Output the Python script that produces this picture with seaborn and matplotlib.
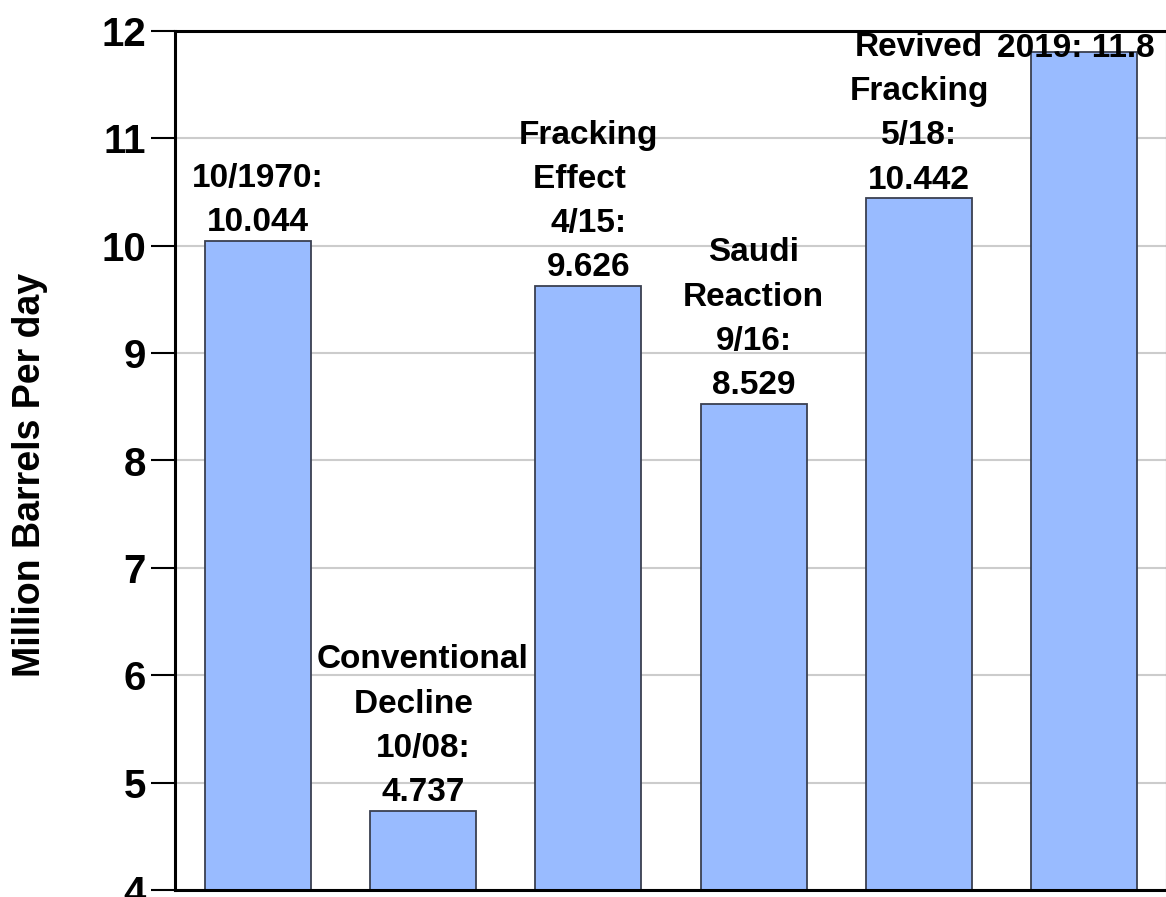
import seaborn as sns
import matplotlib.pyplot as plt

# data
periods = ['10/1970', '10/08', '4/15', '9/16', '5/18', '2019']
production = [10.044, 4.737, 9.626, 8.529, 10.442, 11.8]
bar_labels = ['10/1970:\n10.044',
              'Conventional\nDecline  \n10/08:\n4.737',
              'Fracking\nEffect  \n4/15:\n9.626',
              'Saudi\nReaction\n9/16:\n8.529',
              'Revived\nFracking\n5/18:\n10.442',
              '2019: 11.8']
y_ticks = [4, 5, 6, 7, 8, 9, 10, 11, 12]

sns.set_style('white')
plt.rcParams['font.family'] = ['Liberation Sans', 'DejaVu Sans']
plt.rcParams['font.weight'] = 'bold'
plt.rcParams['text.color'] = 'black'
plt.rcParams['axes.labelcolor'] = 'black'
plt.rcParams['ytick.color'] = 'black'

fig = plt.figure(figsize=(11.66, 8.97), dpi=100)
ax = fig.add_axes([175/1166, 7/897, 992/1166, 859/897])

sns.barplot(x=periods, y=production, color='#99BBFF', saturation=1,
            edgecolor='#3a4050', linewidth=1.3, width=0.64, ax=ax, zorder=2)

ax.set_ylim(4, 12)
ax.set_xlim(-0.5, 5.5)
ax.set_yticks(y_ticks)
ax.set_yticklabels([str(t) for t in y_ticks], fontsize=29, fontweight='bold')
ax.set_xticks([])
ax.set_xlabel('')
ax.set_ylabel('Million Barrels Per day', fontsize=27, fontweight='bold')
ax.yaxis.set_label_coords(-0.128, 0.483)
ax.yaxis.grid(True, color='#cccccc', linewidth=1.5, zorder=0)
ax.set_axisbelow(True)
ax.tick_params(axis='y', direction='out', length=17, width=1.5, color='black',
               pad=4, left=True)

for side in ['left', 'top', 'bottom', 'right']:
    ax.spines[side].set_visible(True)
    ax.spines[side].set_color('black')
    ax.spines[side].set_linewidth(2.2)

for i, (val, lab) in enumerate(zip(production, bar_labels)):
    if i == len(production) - 1:
        # no room above the last bar, the label sits over its top edge
        ax.annotate(lab, (i, val), xytext=(-6, -3), textcoords='offset points',
                    ha='center', va='baseline', fontsize=24, fontweight='bold',
                    annotation_clip=False, zorder=5)
    else:
        ax.annotate(lab, (i, val), xytext=(0, 2), textcoords='offset points',
                    ha='center', va='bottom', fontsize=24, fontweight='bold',
                    linespacing=1.55, zorder=5)

fig.savefig('out.png', dpi=100)
